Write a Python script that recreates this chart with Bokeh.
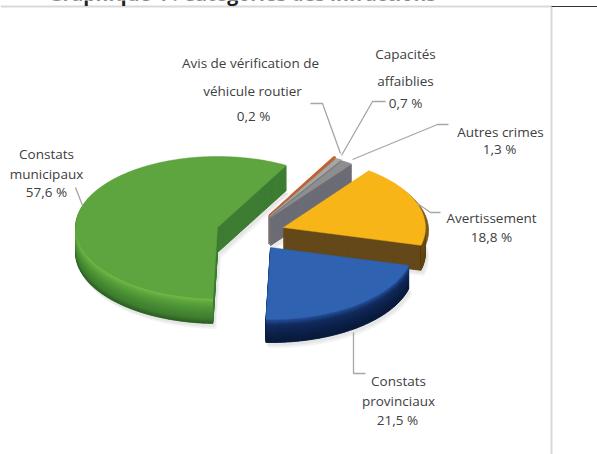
import numpy as np
from bokeh.plotting import figure
from bokeh.models import Range1d
from bokeh.core.properties import value
from bokeh.embed import file_html
from bokeh.resources import INLINE

# data (clockwise order, starting at the thin slices)
categories = ["Avis de vérification de véhicule routier", "Capacités affaiblies", "Autres crimes",
              "Avertissement", "Constats provinciaux", "Constats municipaux"]
values = [0.2, 0.7, 1.3, 18.8, 21.5, 57.6]
value_labels = ["0,2 %", "0,7 %", "1,3 %", "18,8 %", "21,5 %", "57,6 %"]
title_text = "Graphique 4 : Catégories des infractions"

# layout: first slice angle, pie projection and per-slice explosion
START = 29.0
CENTERS = [(268, 215), (269, 216), (270, 217), (283, 227), (270, 247), (217, 227)]
RX = [135, 135, 135, 142, 143, 142]
RY = [67, 67, 67, 71, 72, 71]
DEPTH = [28, 28, 28, 25, 23, 25]
TOPS = ["#c5622c", "#a6a6a6", "#8e8e8e", "#f8b517", "#2f62b0", "#5fa53f"]
EDGE_W = [1.6, 0.5, 0.5, 0.5, 0.5, 0.5]
CUTS = ["#8c6a5c", "#74747c", "#6c6c76", "#65491a", "#10264f", "#3e7d33"]
RIMS = [["#8c6a5c"], ["#74747c"], ["#6c6c76"],
        ["#6b4e1a", "#5b4116"],
        ["#254f9a", "#122c5c", "#0e2450", "#0b1e42", "#0a1a3a"],
        ["#74bb48", "#5da43d", "#4f9637", "#468833", "#3f7d30", "#2c5c24"]]
draw_order = [0, 1, 2, 3, 5, 4]

W, H = 597, 454
p = figure(width=W, height=H, x_range=Range1d(0, W), y_range=Range1d(H, 0),
           output_backend="svg", toolbar_location=None, min_border=0,
           outline_line_color=None, background_fill_color="white", border_fill_color="white")
p.axis.visible = False
p.grid.visible = False
p.styles = {"position": "absolute", "left": "0px", "top": "0px"}

total = sum(values)
edges = START + np.concatenate([[0], np.cumsum(values)]) / total * 360.0


def arc(i, dy=0.0, front=False):
    a0, a1 = edges[i], edges[i + 1]
    if front:
        a0, a1 = max(a0, 90.0), min(a1, 270.0)
    t = np.radians(np.linspace(a0, a1, max(3, int((a1 - a0) * 1.5))))
    cx, cy = CENTERS[i]
    return cx + RX[i] * np.sin(t), cy - RY[i] * np.cos(t) + dy


def mix(stops, f):
    rgb = np.array([[int(c[j:j + 2], 16) for j in (1, 3, 5)] for c in stops], float)
    pos = np.linspace(0, 1, len(stops))
    return "#%02x%02x%02x" % tuple(int(round(np.interp(f, pos, rgb[:, j]))) for j in range(3))


for i in draw_order:
    cx, cy = CENTERS[i]
    ax, ay = arc(i)
    px = np.concatenate([[cx], ax])
    py = np.concatenate([[cy], ay])
    # soft shadow
    for s, c in ((5, "#f3f3f3"), (3, "#e6e6e6")):
        p.patch(px + s * 0.6, py + DEPTH[i] + s, fill_color=c, line_color=c)
    if i == 3:
        p.patch(px + 3, py + 3, fill_color="#7a5a1c", line_color="#7a5a1c")
    # extruded body: cut faces
    for d in np.arange(DEPTH[i], 0, -1.0):
        p.patch(px, py + d, fill_color=CUTS[i], line_color=CUTS[i], line_width=1)
    # curved rim, front part only: overlapping bands painted bottom-up, so no seams
    if edges[i + 1] > 90 and edges[i] < 270:
        n = 2 * DEPTH[i]
        x0, y0 = arc(i, 0.0, True)
        for k in range(n - 1, -1, -1):
            col = mix(RIMS[i], (k + 0.5) / n)
            x1, y1 = arc(i, DEPTH[i] * (k + 1) / n, True)
            p.patch(np.concatenate([x0, x1[::-1]]), np.concatenate([y0, y1[::-1]]),
                    fill_color=col, line_color=None)
    # top surface
    p.patch(px, py, fill_color=TOPS[i], line_color=TOPS[i], line_width=EDGE_W[i])

# leader lines
LEADERS = [
    [(310, 103), (322, 103), (340, 153)],
    [(341, 155), (372, 101), (385, 101)],
    [(352, 159), (437, 124), (448, 124)],
    [(417, 203), (430, 212), (440, 212)],
    [(353, 332), (353, 373), (365, 373)],
    [(75, 187), (82, 205)],
]
for pts in LEADERS:
    xs, ys = zip(*pts)
    p.line(xs, ys, line_color="#a6a6a6", line_width=1.3)

# page frame lines
p.line([0, 551], [6, 6], line_color="#d9d9d9", line_width=2)
p.line([551, 551], [6, H], line_color="#d9d9d9", line_width=2)
p.line([551, W], [6, 6], line_color="#333333", line_width=1)

FONT = value("Open Sans")
LABELS = [
    (250, 62, "Avis de vérification de"), (252, 90, "véhicule routier"), (253, 115, value_labels[0]),
    (405, 53, "Capacités"), (405, 80, "affaiblies"), (405, 102, value_labels[1]),
    (500, 131, "Autres crimes"), (499, 148, value_labels[2]),
    (491, 217, "Avertissement"), (491, 236, value_labels[3]),
    (398, 380, "Constats"), (398, 400, "provinciaux"), (397, 419, value_labels[4]),
    (46, 153, "Constats"), (46, 173, "municipaux"), (46, 191, value_labels[5]),
]
for x, y, t in LABELS:
    p.text([x], [y], text=[t], text_font=FONT, text_font_size="13.5px", text_color="#404040",
           text_align="center", text_baseline="middle")

p.text([48], [-7], text=[title_text], text_font=FONT, text_font_style="bold", text_font_size="19.5px",
       text_color="#222222", text_align="left", text_baseline="alphabetic")

open("out.html", "w").write(file_html(p, INLINE))
